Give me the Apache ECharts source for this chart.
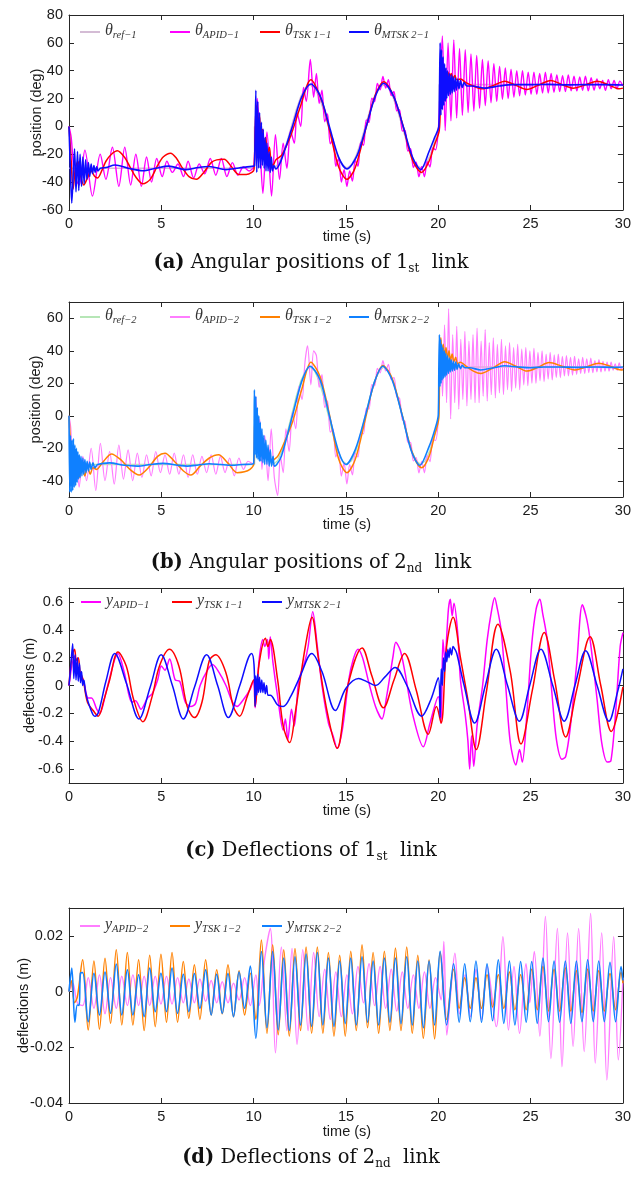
<!DOCTYPE html>
<html><head><meta charset="utf-8">
<script src="https://cdn.jsdelivr.net/npm/echarts@6/dist/echarts.min.js"></script>
<style>html,body{margin:0;padding:0;background:#fff}#c{width:634px;height:1185px}</style>
</head><body><div id="c"></div>
<script>
// ---------- tick labels ----------
const xTicks = [0,5,10,15,20,25,30];
const yTicksA = [-60,-40,-20,0,20,40,60,80];
const yTicksB = [-40,-20,0,20,40,60];
const yTicksC = [-0.6,-0.4,-0.2,0,0.2,0.4,0.6];
const yTicksD = [-40,-20,0,20]; // in 1e-3 m

// ---------- (a) angular positions, link 1 (deg) ----------
const refAngle = [[0,-30],[10.05,-30],[10.05,0],[10.3,-11.5],[10.55,-21.2],[10.8,-27.7],[11.05,-30],[11.3,-27.7],[11.55,-21.2],[11.8,-11.5],[12.05,0],[12.3,11.5],[12.55,21.2],[12.8,27.7],[13.05,30],[13.3,27.7],[13.55,21.2],[13.8,11.5],[14.05,0],[14.3,-11.5],[14.55,-21.2],[14.8,-27.7],[15.05,-30],[15.3,-27.7],[15.55,-21.2],[15.8,-11.5],[16.05,0],[16.3,11.5],[16.55,21.2],[16.8,27.7],[17.05,30],[17.3,27.7],[17.55,21.2],[17.8,11.5],[18.05,0],[18.3,-11.5],[18.55,-21.2],[18.8,-27.7],[19.05,-30],[19.3,-27.7],[19.55,-21.2],[19.8,-11.5],[20.05,0],[20.05,30],[30,30]];

const aApid = [[0,0],[0.12,-8],[0.3,-35],[0.55,-42],[0.86,-17],[1.27,-50],[1.69,-20],[2.0,-38],[2.35,-15],[2.7,-43],[3.02,-15],[3.34,-42],[3.62,-20],[3.92,-43],[4.2,-22],[4.47,-40],[4.75,-23],[5.05,-36],[5.3,-25],[5.6,-33],[5.9,-27],[6.2,-36],[6.45,-25],[6.75,-37],[7.05,-27],[7.35,-34],[7.65,-23],[7.95,-35],[8.25,-23],[8.55,-36],[8.85,-26],[9.15,-35],[9.45,-29],[9.75,-32],[10.0,-29],[10.05,-20],[10.2,20],[10.35,-15],[10.5,-48],[10.72,-4],[10.97,-50],[11.18,-6],[11.4,-38],[11.6,-12],[11.8,-30],[12.0,-3],[12.2,-12],[12.35,10],[12.55,0],[12.7,28],[12.85,18],[13.07,48],[13.25,21],[13.4,38],[13.55,16.5],[13.7,26],[13.85,3.4],[14.0,9],[14.15,-12.5],[14.3,-8.9],[14.45,-28.6],[14.6,-23],[14.75,-39.9],[14.9,-31],[15.05,-43],[15.2,-32],[15.35,-39.2],[15.5,-24.6],[15.65,-28.6],[15.8,-11.4],[15.95,-13.5],[16.1,4.7],[16.25,2.8],[16.4,20.3],[16.55,17.7],[16.7,30.9],[16.85,26.3],[17.0,35.9],[17.15,27.6],[17.3,33.6],[17.45,22.1],[17.6,25.1],[17.75,11.1],[17.9,12.1],[18.05,-3.3],[18.2,-2.7],[18.35,-17.7],[18.5,-16],[18.65,-29.5],[18.8,-25.6],[18.95,-36.2],[19.1,-29],[19.25,-36.1],[19.4,-25.4],[19.55,-29.1],[19.7,-15.4],[19.85,-16.8],[20.0,-2.5],[20.08,20],[20.22,65],[20.375,-3],[20.53,60],[20.685,4],[20.84,62],[20.995,6],[21.15,56],[21.305,8],[21.46,55],[21.615,10],[21.77,52],[21.925,11],[22.08,51],[22.235,13],[22.39,48],[22.545,15],[22.7,47],[22.855,17],[23.01,45],[23.165,18],[23.32,43],[23.475,19.5],[23.63,42],[23.785,20],[23.94,41],[24.095,21],[24.25,40],[24.405,22],[24.56,40],[24.715,22.5],[24.87,39],[25.025,23],[25.18,39],[25.335,23],[25.49,38],[25.645,24],[25.8,39],[25.955,24],[26.11,38],[26.265,24.5],[26.42,37],[26.575,25],[26.73,36.5],[26.885,25],[27.04,37],[27.195,25.5],[27.35,36],[27.505,25.5],[27.66,35.5],[27.815,26],[27.97,36],[28.125,25.5],[28.28,35],[28.435,26],[28.59,34],[28.745,27],[28.9,33],[29.055,26],[29.21,33.5],[29.365,27],[29.52,33],[29.675,27],[29.83,32.5],[30,29]];

const aTsk = [[0,0],[0.1,-20],[0.22,-45],[0.35,-30],[0.48,-25],[0.62,-35],[0.8,-42],[1.0,-37],[1.2,-32],[1.4,-36],[1.55,-37],[1.8,-31],[2.0,-25],[2.3,-20],[2.62,-17.5],[3.0,-22],[3.3,-29],[3.6,-36],[4.0,-41.2],[4.4,-38],[4.8,-28],[5.1,-22],[5.5,-19.2],[5.8,-22.5],[6.1,-29],[6.5,-36],[6.9,-38],[7.3,-33],[7.7,-26],[8.0,-24],[8.4,-23.5],[8.8,-29],[9.2,-34.5],[9.6,-34.5],[9.9,-33],[10.02,-31],[10.1,5],[10.18,15],[10.25,-5],[10.32,8],[10.4,-10],[10.48,-2],[10.56,-15],[10.65,-8],[10.75,-20],[10.85,-15],[10.95,-26],[11.05,-28],[11.2,-24],[11.4,-22],[11.55,-20],[12.0,-7],[12.5,13],[13.1,33.5],[13.7,18],[14.1,-2],[14.6,-29],[15.05,-38],[15.5,-29.6],[16.1,-0.3],[16.6,23],[17.05,32],[17.6,21],[18.1,0],[18.6,-24],[19.1,-33],[19.5,-25],[19.8,-13],[20.05,-3],[20.12,20],[20.2,38],[20.28,34],[20.36,40],[20.44,35],[20.52,39],[20.6,35],[20.7,38],[20.8,34],[20.9,36.5],[21.0,33.5],[21.2,34],[21.5,31.5],[21.9,29],[22.4,27],[23.0,29.5],[23.6,32.5],[24.2,29.5],[24.8,26.5],[25.4,29.5],[26.1,33],[26.7,30],[27.3,27.5],[28.0,30],[28.6,32.5],[29.2,30],[29.8,27],[30,27.5]];

const aMtsk = [[0,0],[0.06,-25],[0.15,-55],[0.3,-16],[0.38,-47],[0.46,-18],[0.53,-46],[0.6,-20],[0.68,-43],[0.75,-22],[0.82,-41],[0.9,-24],[0.97,-38],[1.05,-26],[1.12,-36],[1.2,-27],[1.27,-34],[1.35,-28],[1.42,-33],[1.5,-29],[1.57,-32],[1.7,-30],[2.0,-29.5],[2.5,-27.7],[3.2,-30],[4.0,-31.8],[4.7,-30],[5.4,-28.5],[6.3,-31],[7.0,-29.5],[7.6,-28.8],[8.5,-31],[9.2,-29.8],[10.0,-28.5],[10.05,-28],[10.12,26],[10.17,-33],[10.22,18],[10.27,-30],[10.32,10],[10.37,-30],[10.42,3],[10.47,-28],[10.52,-2],[10.57,-30],[10.62,-8],[10.67,-32],[10.72,-12],[10.78,-32],[10.84,-18],[10.9,-33],[10.96,-22],[11.02,-32],[11.1,-28],[11.2,-30.5],[11.5,-24],[12.1,0],[12.6,21],[13.1,30.5],[13.6,22],[14.1,0],[14.6,-22],[15.05,-30.5],[15.6,-21],[16.1,0],[16.6,22],[17.05,31],[17.6,21],[18.1,0],[18.6,-22],[19.05,-31],[19.5,-18],[19.8,-8],[20.03,0],[20.06,20],[20.1,60],[20.14,8],[20.18,55],[20.22,12],[20.26,50],[20.3,15],[20.34,45],[20.38,18],[20.42,42],[20.46,20],[20.5,40],[20.55,22],[20.6,38],[20.65,23],[20.7,37],[20.75,24],[20.8,36],[20.86,25],[20.92,35],[20.98,26],[21.05,34],[21.12,27],[21.2,33],[21.3,28],[21.4,31.5],[21.55,29],[21.8,29],[22.5,27.5],[23.3,29],[24.0,30],[25,30],[26,30.2],[27,29.8],[28,30],[29,30],[30,29.7]];

// ---------- (b) angular positions, link 2 (deg) ----------
const bApid = [[0,0],[0.1,-8],[0.22,-42],[0.38,-22],[0.55,-44],[0.75,-25],[0.95,-40],[1.2,-20],[1.45,-46],[1.7,-17],[1.95,-40],[2.2,-22],[2.45,-42],[2.7,-18],[2.95,-39],[3.2,-21],[3.45,-40],[3.7,-23],[3.95,-38],[4.2,-24],[4.45,-37],[4.7,-22],[4.95,-35],[5.2,-24],[5.45,-36],[5.7,-23],[5.95,-36],[6.2,-24],[6.45,-38],[6.7,-24],[6.95,-36],[7.2,-25],[7.45,-35],[7.7,-24],[7.95,-36],[8.2,-25],[8.45,-35],[8.7,-26],[8.95,-37],[9.2,-26],[9.45,-33],[9.7,-28],[10.0,-30],[10.05,-8],[10.12,12],[10.22,-18],[10.33,-2],[10.45,-33],[10.6,-12],[10.78,-40],[10.95,-8],[11.12,-38],[11.3,-49],[11.45,-25],[11.6,-35],[11.75,-8],[11.92,-22],[12.1,2],[12.28,-8],[12.45,18],[12.62,10],[12.78,33],[12.92,43],[13.1,19],[13.25,40],[13.4,37],[13.55,17.5],[13.7,25.3],[13.85,5.1],[14.0,9.1],[14.15,-10.1],[14.3,-8.1],[14.45,-25.3],[14.6,-21.5],[14.75,-37.1],[14.9,-29],[15.05,-42],[15.2,-30.1],[15.35,-36.4],[15.5,-23.1],[15.65,-25.4],[15.8,-10.6],[15.95,-11.1],[16.1,4.6],[16.25,4.2],[16.4,19.2],[16.55,18.3],[16.7,29.1],[16.85,26.4],[17.0,33.9],[17.15,27.6],[17.3,31.7],[17.45,22.3],[17.6,23.5],[17.75,11.6],[17.9,10.8],[18.05,-2.3],[18.2,-3.5],[18.35,-16.3],[18.5,-16.4],[18.65,-27.8],[18.8,-25.7],[18.95,-35.2],[19.1,-28],[19.25,-35.1],[19.4,-24.5],[19.55,-28.3],[19.7,-14.7],[19.85,-15.2],[20.0,-3],[20.03,10],[20.12,48],[20.23,12],[20.34,56],[20.45,8],[20.56,66],[20.67,-2],[20.78,50],[20.89,8],[21.0,55],[21.11,4],[21.22,47],[21.33,10],[21.44,52],[21.55,6],[21.66,46],[21.77,10],[21.88,50],[21.99,8],[22.1,54],[22.21,8],[22.32,46],[22.43,12],[22.54,53],[22.65,9],[22.76,45],[22.87,13],[22.98,48],[23.09,11],[23.2,44],[23.31,14],[23.42,47],[23.53,13],[23.64,43],[23.75,16],[23.86,45],[23.97,15],[24.08,42],[24.19,17],[24.3,44],[24.41,16],[24.52,41],[24.63,19],[24.74,42],[24.85,18.5],[24.96,40],[25.07,20],[25.18,41.5],[25.29,20],[25.4,39],[25.51,21.5],[25.62,40],[25.73,21],[25.84,38],[25.95,22.5],[26.06,39],[26.17,22],[26.28,37.5],[26.39,23.5],[26.5,38],[26.61,23.5],[26.72,36.5],[26.83,24.5],[26.94,37],[27.05,24.5],[27.16,36],[27.27,25],[27.38,36.5],[27.49,25.5],[27.6,35],[27.71,26],[27.82,36],[27.93,26],[28.04,35],[28.15,26.5],[28.26,35.5],[28.37,26.5],[28.48,34],[28.59,27],[28.7,34.5],[28.81,27],[28.92,33.5],[29.03,27.5],[29.14,33],[29.25,27.5],[29.36,33],[29.47,28],[29.58,32],[29.69,28],[29.8,32.5],[29.91,28.5],[30,30]];

const bTsk = [[0,0],[0.1,-20],[0.25,-42],[0.4,-30],[0.55,-38],[0.7,-30],[0.85,-37],[1.0,-31],[1.15,-36],[1.3,-32],[1.5,-33],[1.8,-29],[2.3,-23.5],[2.8,-27],[3.3,-33],[3.8,-36.5],[4.3,-32],[4.8,-25],[5.2,-23],[5.7,-28],[6.2,-34],[6.6,-36.5],[7.1,-31],[7.6,-26],[8.1,-24],[8.6,-29],[9.1,-35],[9.5,-34.5],[9.8,-33],[10.0,-30],[10.06,-3],[10.12,-10],[10.18,-2],[10.25,-15],[10.32,-8],[10.4,-20],[10.48,-14],[10.56,-24],[10.65,-19],[10.75,-26],[10.85,-23],[10.95,-28],[11.1,-27],[11.3,-25],[11.6,-18],[12.1,-4],[12.6,16],[13.1,33],[13.6,24],[14.1,1],[14.6,-26.5],[15.05,-35],[15.5,-27],[16.05,-2],[16.5,19],[17.0,31],[17.5,23],[18.1,-2],[18.6,-23],[19.1,-32],[19.5,-25],[19.8,-12],[20.02,-2],[20.08,35],[20.14,48],[20.2,38],[20.27,44],[20.34,36],[20.42,42],[20.5,35],[20.58,40],[20.66,34],[20.75,38],[20.84,33],[20.94,36],[21.05,32],[21.2,33],[21.5,30.5],[21.9,27.5],[22.3,26],[22.9,29],[23.6,33.3],[24.2,30.5],[24.8,27.5],[25.4,29.8],[26.0,32.7],[26.7,30.5],[27.4,28.2],[28.0,30],[28.7,32.3],[29.3,30.5],[29.9,28.2],[30,28.3]];

const bMtsk = [[0,0],[0.04,-47],[0.08,-12],[0.12,-47],[0.16,-15],[0.2,-46],[0.24,-14],[0.28,-44],[0.32,-18],[0.36,-43],[0.4,-20],[0.44,-41],[0.48,-22],[0.52,-39],[0.56,-24],[0.6,-38],[0.65,-25],[0.7,-37],[0.75,-26],[0.8,-36],[0.86,-27],[0.92,-35],[0.98,-28],[1.05,-34],[1.12,-28.5],[1.2,-33],[1.3,-29],[1.4,-32],[1.55,-30],[2.2,-29],[3.0,-30.5],[3.7,-31],[4.4,-30],[5.1,-29.3],[5.8,-30.3],[6.4,-31],[7.0,-30.3],[7.6,-29.5],[8.2,-30],[8.8,-30.5],[9.4,-30],[10.0,-29.5],[10.04,16],[10.08,-24],[10.12,12],[10.16,-26],[10.2,5],[10.24,-27],[10.28,0],[10.32,-28],[10.36,-4],[10.4,-28],[10.45,-8],[10.5,-29],[10.55,-12],[10.6,-30],[10.66,-15],[10.72,-30],[10.78,-18],[10.84,-31],[10.9,-21],[10.97,-31],[11.05,-25],[11.12,-31],[11.25,-30],[11.5,-25],[12.1,0],[12.6,21],[13.05,30.5],[13.6,22],[14.1,0],[14.6,-22],[15.0,-30],[15.5,-21],[16.05,0],[16.55,21],[17.0,30.5],[17.5,22],[18.05,0],[18.55,-22],[19.0,-30.5],[19.5,-19],[19.8,-9],[20.0,0.5],[20.03,30],[20.06,50],[20.09,18],[20.12,47],[20.15,20],[20.18,44],[20.21,22],[20.25,42],[20.29,23],[20.33,40],[20.37,24],[20.41,38.5],[20.45,25],[20.5,37],[20.55,26],[20.6,35.5],[20.65,27],[20.7,34.5],[20.76,27.5],[20.82,33.5],[20.88,28],[20.95,33],[21.02,28.5],[21.1,32],[21.2,29],[21.3,31],[21.45,29.5],[21.7,29.5],[22.3,28.2],[23.0,29.5],[23.6,30.8],[24.3,30],[25,29.5],[25.7,30],[26.5,30],[27.5,29.8],[28.5,30],[29.5,29.8],[30,30]];

// ---------- (c) deflections, link 1 (m) ----------
const cApid = [[0,0],[0.3,0.21],[0.5,0.09],[0.77,0.04],[1.04,-0.09],[1.22,-0.09],[1.5,-0.17],[1.67,-0.2],[2.0,-0.05],[2.48,0.19],[2.65,0.23],[3.0,0.09],[3.4,-0.12],[3.6,-0.11],[3.9,-0.17],[4.25,-0.09],[4.5,-0.06],[4.8,0.04],[5.0,0.14],[5.2,0.11],[5.45,0.19],[5.75,0.04],[6.0,0.03],[6.3,-0.12],[6.6,-0.15],[6.85,-0.13],[7.1,0.0],[7.5,0.11],[7.77,0.15],[8.1,0.1],[8.5,0.0],[8.85,-0.12],[9.1,-0.15],[9.45,-0.1],[9.8,-0.03],[10.0,0.04],[10.08,-0.16],[10.3,0.19],[10.5,0.33],[10.6,0.28],[10.75,0.33],[10.82,0.19],[10.9,0.35],[11.05,0.16],[11.3,-0.08],[11.6,-0.32],[11.72,-0.24],[11.85,-0.39],[12.05,-0.17],[12.2,-0.29],[12.45,0.04],[12.75,0.16],[12.95,0.28],[13.2,0.53],[13.45,0.28],[13.7,0.0],[14.05,-0.27],[14.3,-0.36],[14.52,-0.45],[14.8,-0.32],[15.15,0.04],[15.4,0.19],[15.65,0.26],[15.9,0.2],[16.2,0.04],[16.6,-0.15],[16.95,-0.24],[17.2,-0.08],[17.55,0.21],[17.7,0.31],[17.95,0.25],[18.2,0.09],[18.6,-0.2],[19.19,-0.44],[19.55,-0.27],[20.0,-0.08],[20.15,-0.27],[20.25,0.33],[20.35,0.19],[20.55,0.55],[20.65,0.62],[20.75,0.5],[20.85,0.59],[21.05,0.38],[21.2,0.04],[21.45,-0.2],[21.6,-0.39],[21.7,-0.6],[21.8,-0.36],[21.92,-0.58],[22.1,-0.29],[22.4,0.0],[22.65,0.33],[22.9,0.55],[23.05,0.63],[23.2,0.55],[23.4,0.4],[23.65,0.0],[23.9,-0.41],[24.2,-0.57],[24.4,-0.46],[24.55,-0.55],[24.8,-0.2],[25.05,0.28],[25.3,0.55],[25.5,0.62],[25.65,0.52],[25.9,0.33],[26.15,-0.05],[26.4,-0.39],[26.7,-0.53],[26.9,-0.51],[27.15,-0.3],[27.5,0.16],[27.8,0.58],[28.05,0.47],[28.25,0.3],[28.6,-0.1],[28.85,-0.41],[29.15,-0.55],[29.35,-0.54],[29.6,-0.2],[29.85,0.28],[30.0,0.38]];

const cTsk = [[0,0],[0.15,0.2],[0.3,0.26],[0.4,0.18],[0.5,0.2],[0.6,0.1],[0.77,0.04],[1.0,-0.12],[1.31,-0.18],[1.58,-0.22],[1.9,-0.1],[2.2,0.04],[2.65,0.24],[3.1,0.14],[3.5,-0.1],[4.0,-0.26],[4.5,-0.08],[4.9,0.14],[5.44,0.26],[5.95,0.14],[6.4,-0.15],[6.79,-0.23],[7.2,-0.12],[7.6,0.18],[7.95,0.22],[8.5,0.09],[8.9,-0.15],[9.24,-0.22],[9.65,-0.08],[10.0,0.04],[10.08,-0.15],[10.3,0.16],[10.64,0.34],[10.77,0.28],[10.9,0.33],[11.3,0.04],[11.6,-0.29],[11.95,-0.41],[12.25,-0.2],[12.8,0.28],[13.16,0.49],[13.5,0.2],[14.0,-0.2],[14.52,-0.45],[15.1,0.0],[15.87,0.27],[16.4,0.07],[17.03,-0.16],[17.6,0.04],[18.17,0.23],[18.8,-0.03],[19.46,-0.35],[19.9,-0.15],[20.15,-0.27],[20.45,0.28],[20.8,0.49],[21.2,0.2],[21.6,-0.1],[22.06,-0.46],[22.6,-0.05],[23.23,0.44],[23.9,0.1],[24.48,-0.42],[25.1,-0.03],[25.74,0.38],[26.3,0.04],[26.9,-0.37],[27.5,-0.03],[28.22,0.35],[28.8,0.0],[29.37,-0.33],[30.0,-0.01]];

const cMtsk = [[0,0],[0.1,0.15],[0.2,0.3],[0.26,0.05],[0.33,0.22],[0.38,0.04],[0.45,0.2],[0.5,0.03],[0.57,0.16],[0.62,0.02],[0.68,0.1],[0.74,0.0],[0.8,0.04],[0.9,-0.05],[1.04,-0.12],[1.3,-0.21],[1.4,-0.22],[1.6,-0.19],[2.0,0.03],[2.48,0.23],[3.1,0.02],[3.79,-0.24],[4.4,-0.01],[4.99,0.22],[5.6,0.0],[6.19,-0.24],[6.8,-0.01],[7.45,0.22],[8.05,0.0],[8.63,-0.23],[9.25,0.0],[9.89,0.23],[10.02,0.15],[10.08,-0.15],[10.12,0.07],[10.17,-0.07],[10.22,0.08],[10.27,-0.05],[10.32,0.06],[10.38,-0.05],[10.44,0.04],[10.5,-0.05],[10.56,0.02],[10.63,-0.06],[10.7,0.0],[10.78,-0.07],[10.9,-0.07],[11.3,-0.14],[11.6,-0.15],[12.0,-0.08],[12.5,0.06],[13.15,0.23],[13.7,0.1],[14.43,-0.18],[15.0,-0.02],[15.69,0.05],[16.1,0.03],[16.6,0.0],[17.1,0.06],[17.66,0.13],[18.3,0.0],[19.1,-0.22],[19.6,-0.1],[20.0,0.055],[20.1,-0.23],[20.16,0.12],[20.22,0.0],[20.28,0.2],[20.34,0.1],[20.4,0.24],[20.46,0.17],[20.52,0.26],[20.58,0.2],[20.64,0.27],[20.72,0.22],[20.8,0.28],[20.9,0.26],[21.0,0.23],[21.4,0.0],[21.97,-0.27],[22.55,0.0],[23.14,0.26],[23.75,0.0],[24.39,-0.256],[24.95,0.0],[25.56,0.26],[26.2,0.0],[26.82,-0.256],[27.4,0.0],[27.98,0.25],[28.6,0.0],[29.24,-0.256],[29.7,-0.05],[30.0,0.12]];

// ---------- (d) deflections, link 2 (values in 1e-3 m) ----------
const dApid = [[0,0],[0.2,3],[0.45,-4],[0.74,-5],[1.04,5],[1.35,-6],[1.65,6],[1.95,-8],[2.25,5],[2.56,-6],[2.86,5.5],[3.16,-5],[3.46,6],[3.77,-5],[4.07,5.5],[4.37,-5],[4.67,5.5],[4.98,-4.5],[5.28,5.5],[5.58,-4.5],[5.88,5],[6.19,-4],[6.49,4.5],[6.79,-4],[7.09,4.5],[7.4,-3.5],[7.7,4],[8.0,-4],[8.3,3.5],[8.61,-4],[8.91,3],[9.21,-3],[9.51,5],[9.82,-5],[10.12,6],[10.3,-5],[10.6,12],[10.9,22.7],[11.18,-22],[11.5,16],[11.8,-14],[12.08,15.5],[12.35,-19],[12.66,15],[12.95,-14],[13.25,14],[13.55,-9],[13.85,8],[14.15,-10],[14.45,7],[14.75,-9],[15.05,6],[15.35,-8],[15.65,9],[15.95,-4],[16.25,10],[16.55,-5],[16.85,9],[17.15,-6],[17.45,8],[17.75,-7],[18.05,7],[18.35,-6],[18.65,6],[18.95,-6],[19.25,7],[19.55,-6],[19.85,5],[20.15,-3],[20.3,18],[20.46,-15.6],[20.65,-2],[20.9,13.8],[21.15,-8],[21.45,6],[21.75,-9],[22.05,8],[22.35,-10],[22.65,9],[23.14,-12.6],[23.5,19.7],[23.8,-13.8],[24.1,9],[24.4,-15],[24.75,10],[24.95,-4],[25.2,14.4],[25.5,-16],[25.8,27],[26.1,-24],[26.45,22.7],[26.7,-27],[27.0,21],[27.3,-19.7],[27.6,22.7],[27.9,-21.5],[28.25,28],[28.5,-25.7],[28.85,21],[29.13,-31.7],[29.5,19.7],[29.75,-24.5],[30.0,5]];

const dExtTimes = [0.74,1.04,1.35,1.65,1.95,2.25,2.56,2.86,3.16,3.46,3.77,4.07,4.37,4.67,4.98,5.28,5.58,5.88,6.19,6.49,6.79,7.09,7.40,7.70,8.00,8.30,8.61,8.91,9.21,9.51,9.82,10.12,10.42,10.72,11.03,11.33,11.63,11.93,12.24,12.54,12.84,13.14,13.45,13.75,14.05,14.35,14.66,14.96,15.26,15.56,15.87,16.17,16.47,16.77,17.08,17.38,17.68,17.98,18.29,18.59,18.89,19.19,19.50,19.80,20.10,20.45,20.83,21.13,21.43,21.73,22.04,22.34,22.64,22.94,23.25,23.55,23.85,24.15,24.46,24.76,25.06,25.36,25.67,25.97,26.27,26.57,26.88,27.18,27.48,27.78,28.09,28.39,28.69,28.99,29.30,29.60,29.90];
const dTskStart = [[0,0],[0.12,4],[0.3,-4],[0.45,-2]];
const dTskExt = [11.4,-13.8,11,-13.5,12,-11.4,15,-12,14,-12,11.4,-14,13,-12.6,13.4,-11,14,-11,10.8,-9.6,9.6,-10,11.4,-8.4,7.8,-8,9.6,-9,7.5,-8.4,6.6,
 -10,18.5,-15,16.8,-15.5,15,-16,15.5,-14,16,-15,16,-15,14,-16,13,-16,14.5,-14,16.8,-13,14,-15,14.5,-14,15.6,-14,16,-15,13,-16.8,11.4,-17,14,
 -10,8,-6,5,-6,5,-6,6,-5.5,6,-6,7,-6.5,6,-6.5,8,-6.5,9,-7,8,-7,8.5,-7,7.5,-7.5,8,-7,7.5,-7,6.5,-6.5,7];
const dTskEnd = [[30,3]];
const dMtskStart = [[0,0],[0.15,8.4],[0.32,-11],[0.45,-4.8],[0.55,-5],[0.62,6.6]];
const dMtskExt = [6.8,-10.8,6.6,-8.4,7,-7.8,9.9,-8.4,7.8,-8.4,6,-9,8.4,-7.2,6.6,-7.2,8.4,-7.8,6.2,-7.2,6.5,-6,7.8,-8.4,6.2,-7.8,6.5,-9,7,-6,9.2,
 -16.8,14.4,-13,14.4,-13.8,12,-14,12.5,-12,13.5,-12.5,14,-12,12,-12.5,11,-11.5,12,-12,12.5,-11,11,-12,12,-11,12,-11.5,12.5,-12,11,-13,11,-12,14.5,
 -12,10,-11,10,-10.8,11,-11,10,-10.5,11.4,-11.4,11,-12,10.8,-11,10.8,-11.4,12,-10.8,11,-11,11,-11.4,11,-10.8,11.4,-10.8,11,-10.8,10.5,-10.8,9];
const dMtskEnd = [[30,4]];

const zipT = (ts, vs) => ts.map((t, i) => [t, vs[i]]);
const dTsk = dTskStart.concat(zipT(dExtTimes, dTskExt), dTskEnd);
const dMtsk = dMtskStart.concat(zipT(dExtTimes, dMtskExt), dMtskEnd);

// ---------- styling ----------
const C = {ref1:'#d4bcd5', apid1:'#ff00ff', tsk1:'#ff0000', mtsk1:'#0d0dff',
           ref2:'#b6e6b6', apid2:'#ff7dff', tsk2:'#ff8000', mtsk2:'#0f80ff'};
const AX = '#262626', TXT = '#1a1a1a';
const SANS = 'Liberation Sans, Arial, sans-serif';
const SERIF = 'Liberation Serif, Times New Roman, serif';
const CAPSERIF = 'DejaVu Serif, serif';

const grids = [
  {left:69, top:15, width:557, height:195},
  {left:69, top:302, width:557, height:195},
  {left:69, top:588, width:557, height:195},
  {left:69, top:908, width:557, height:195}
];
const yCfg = [
  {min:-60, max:80, ticks:yTicksA, fmt:v=>String(v)},
  {min:-50, max:70, ticks:yTicksB, fmt:v=>String(v)},
  {min:-0.7, max:0.7, ticks:yTicksC, fmt:v=>String(v)},
  {min:-40, max:30, ticks:yTicksD, fmt:v=>String(v/1000)}
];
const xAxes = [], yAxes = [];
grids.forEach((g, i) => {
  ['bottom','top'].forEach(pos => xAxes.push({
    gridIndex:i, type:'value', position:pos, min:0, max:30,
    axisLine:{show:true, onZero:false, lineStyle:{color:AX, width:1}},
    axisTick:{show:true, inside:true, length:5, customValues:xTicks, lineStyle:{color:AX}},
    axisLabel:{show:pos==='bottom', customValues:xTicks, color:TXT, fontSize:14.5, fontFamily:SANS, margin:6},
    splitLine:{show:false}
  }));
  ['left','right'].forEach(pos => yAxes.push({
    gridIndex:i, type:'value', position:pos, min:yCfg[i].min, max:yCfg[i].max,
    axisLine:{show:true, onZero:false, lineStyle:{color:AX, width:1}},
    axisTick:{show:true, inside:true, length:5, customValues:yCfg[i].ticks, lineStyle:{color:AX}},
    axisLabel:{show:pos==='left', customValues:yCfg[i].ticks, formatter:yCfg[i].fmt, color:TXT, fontSize:14.5, fontFamily:SANS, margin:6},
    splitLine:{show:false}
  }));
});

function line(name, data, gi, color, width, smooth) {
  return {name, type:'line', data, xAxisIndex:2*gi, yAxisIndex:2*gi, showSymbol:false, symbol:'none',
    smooth: smooth, lineStyle:{color, width}, itemStyle:{color}, animation:false, silent:true};
}
const series = [
  line('ref-1', refAngle, 0, C.ref1, 1.6, false),
  line('APID-1', aApid, 0, C.apid1, 1.4, 0.3),
  line('TSK1-1', aTsk, 0, C.tsk1, 1.5, 0.3),
  line('MTSK2-1', aMtsk, 0, C.mtsk1, 1.6, 0.3),
  line('ref-2', refAngle, 1, C.ref2, 1.4, false),
  line('APID-2', bApid, 1, C.apid2, 1.2, 0.3),
  line('TSK1-2', bTsk, 1, C.tsk2, 1.5, 0.3),
  line('MTSK2-2', bMtsk, 1, C.mtsk2, 1.6, 0.3),
  line('yAPID-1', cApid, 2, C.apid1, 1.5, 0.3),
  line('yTSK1-1', cTsk, 2, C.tsk1, 1.5, 0.35),
  line('yMTSK2-1', cMtsk, 2, C.mtsk1, 1.5, 0.35),
  line('yAPID-2', dApid, 3, C.apid2, 1.4, 0.35),
  line('yTSK1-2', dTsk, 3, C.tsk2, 1.5, 0.35),
  line('yMTSK2-2', dMtsk, 3, C.mtsk2, 1.6, 0.35)
];

const legText = {
  'ref-1':['θ','ref−1'], 'APID-1':['θ','APID−1'], 'TSK1-1':['θ','TSK 1−1'], 'MTSK2-1':['θ','MTSK 2−1'],
  'ref-2':['θ','ref−2'], 'APID-2':['θ','APID−2'], 'TSK1-2':['θ','TSK 1−2'], 'MTSK2-2':['θ','MTSK 2−2'],
  'yAPID-1':['y','APID−1'], 'yTSK1-1':['y','TSK 1−1'], 'yMTSK2-1':['y','MTSK 2−1'],
  'yAPID-2':['y','APID−2'], 'yTSK1-2':['y','TSK 1−2'], 'yMTSK2-2':['y','MTSK 2−2']
};
const legPos = [
  ['ref-1',80,23],['APID-1',170,23],['TSK1-1',260,23],['MTSK2-1',349,23],
  ['ref-2',80,308],['APID-2',170,308],['TSK1-2',260,308],['MTSK2-2',349,308],
  ['yAPID-1',81,593],['yTSK1-1',172,593],['yMTSK2-1',262,593],
  ['yAPID-2',80,917],['yTSK1-2',170,917],['yMTSK2-2',262,917]
];
const legends = legPos.map(([n, x, y]) => ({
  data:[n], left:x, top:y, padding:0, itemGap:0, itemWidth:20, itemHeight:2, icon:'rect',
  selectedMode:false,
  formatter: nm => '{m|' + legText[nm][0] + '}{s|' + legText[nm][1] + '}',
  textStyle:{ color:'#333', rich:{
    m:{fontFamily:SERIF, fontStyle:'italic', fontSize:16, lineHeight:18, verticalAlign:'top', color:'#333'},
    s:{fontFamily:SERIF, fontStyle:'italic', fontSize:10.5, lineHeight:8, verticalAlign:'bottom', color:'#333'}
  }}
}));

function txt(x, y, s, rot, size) {
  return {type:'text', x, y, rotation: rot || 0, silent:true,
    style:{text:s, fill:TXT, fontSize:size || 14.5, fontFamily:SANS, textAlign:'center', textVerticalAlign:'middle', align:'center', verticalAlign:'middle'}};
}
function caption(y, letter, body, sup, tail) {
  return {type:'text', x:311, y, silent:true,
    style:{text:'{b|(' + letter + ')} ' + body + '{s|' + sup + '}' + tail,
      fill:'#111', fontSize:19.5, fontFamily:CAPSERIF, textAlign:'center', textVerticalAlign:'middle', align:'center', verticalAlign:'middle',
      rich:{ b:{fontWeight:'bold', fontSize:19.5, fontFamily:CAPSERIF, fill:'#111', lineHeight:24},
             s:{fontSize:12, fontFamily:CAPSERIF, fill:'#111', lineHeight:18, verticalAlign:'bottom'} } }};
}
const graphics = [
  txt(347, 237, 'time (s)'), txt(36.5, 112.5, 'position (deg)', Math.PI/2),
  txt(347, 525, 'time (s)'), txt(35.5, 399.5, 'position (deg)', Math.PI/2),
  txt(347, 811, 'time (s)'), txt(29.5, 685.5, 'deflections (m)', Math.PI/2),
  txt(347, 1132, 'time (s)'), txt(24, 1005.5, 'deflections (m)', Math.PI/2),
  caption(263, 'a', 'Angular positions of 1', 'st', '  link'),
  caption(563, 'b', 'Angular positions of 2', 'nd', '  link'),
  caption(851, 'c', 'Deflections of 1', 'st', '  link'),
  caption(1158, 'd', 'Deflections of 2', 'nd', '  link')
];

const chart = echarts.init(document.getElementById('c'), null, {renderer:'canvas'});
chart.setOption({
  animation:false, backgroundColor:'#fff',
  grid:grids, xAxis:xAxes, yAxis:yAxes, series, legend:legends, graphic:graphics
});
</script></body></html>
